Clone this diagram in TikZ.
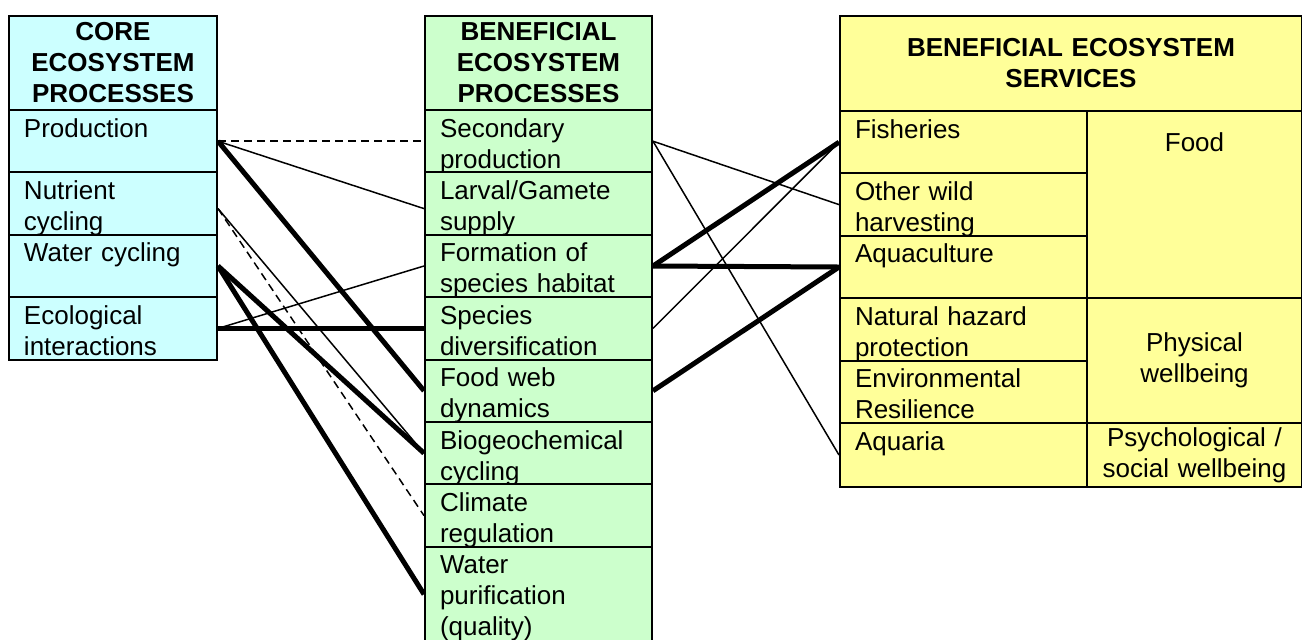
\documentclass[tikz,border=0pt]{standalone}
\usepackage{fontspec}
\setmainfont{Liberation Sans}
\definecolor{coreblue}{HTML}{CCFFFF}
\definecolor{benegreen}{HTML}{CCFFCC}
\definecolor{servyellow}{HTML}{FFFF99}
\tikzset{
  box/.style={draw, line width=1pt, anchor=north west, inner ysep=0pt},
  cell/.style={box, inner xsep=7.5pt, align=left, text height=13.5pt, text depth=17.7pt,
    font=\fontsize{13}{15.5}\selectfont},
  head/.style={box, inner xsep=0pt, align=center, minimum height=47pt,
    font=\fontsize{13}{15.5}\selectfont\bfseries},
  group/.style={box, inner xsep=0pt, align=center, text width=107.5pt,
    font=\fontsize{13}{15.5}\selectfont},
  corecell/.style={cell, fill=coreblue, text width=89pt},
  benecell/.style={cell, fill=benegreen, text width=98.5pt},
  servcell/.style={cell, fill=servyellow, text width=108.5pt},
  thinlink/.style={line width=0.75pt},
  thicklink/.style={line width=2.5pt},
  dashlink/.style={line width=0.75pt, dash pattern=on 4pt off 2.5pt}
}
\begin{document}
\begin{tikzpicture}[x=0.5pt,y=-0.5pt]
\useasboundingbox (0,0) rectangle (1302,639);
% core processes
\node (corehead) at (8,15) [head, fill=coreblue, text width=104pt] {CORE\\ECOSYSTEM\\PROCESSES};
\node (prod) at (8,109) [corecell] {Production};
\node (nutr) at (8,171.4) [corecell] {Nutrient\\cycling};
\node (watc) at (8,233.8) [corecell] {Water cycling};
\node (ecol) at (8,296.2) [corecell] {Ecological\\interactions};
% beneficial processes
\node (benehead) at (424,15) [head, fill=benegreen, text width=113.5pt] {BENEFICIAL\\ECOSYSTEM\\PROCESSES};
\node (secp) at (424,109) [benecell] {Secondary\\production};
\node (larv) at (424,171.4) [benecell] {Larval/Gamete\\supply};
\node (habi) at (424,233.8) [benecell] {Formation of\\species habitat};
\node (divr) at (424,296.2) [benecell] {Species\\diversification};
\node (fweb) at (424,358.6) [benecell] {Food web\\dynamics};
\node (bgeo) at (424,421) [benecell] {Biogeochemical\\cycling};
\node (clim) at (424,483.4) [benecell] {Climate\\regulation};
\node (purf) at (424,545.8) [benecell, text depth=34pt] {Water\\purification\\(quality)};
% services
\node (servhead) at (839,15) [head, fill=servyellow, text width=231pt, minimum height=47.5pt] {BENEFICIAL ECOSYSTEM\\SERVICES};
\node (fish) at (839,110) [servcell] {Fisheries};
\node (wild) at (839,172.4) [servcell] {Other wild\\harvesting};
\node (aqcu) at (839,234.8) [servcell] {Aquaculture};
\node (hazd) at (839,297.2) [servcell] {Natural hazard\\protection};
\node (resl) at (839,359.6) [servcell] {Environmental\\Resilience};
\node (aqra) at (839,422) [servcell, text depth=18.5pt] {Aquaria};
\node (food) at (1086,110) [group, fill=servyellow, text height=20pt, text depth=73.6pt] {Food};
\node (phys) at (1086,297.2) [group, fill=servyellow, minimum height=62.4pt] {Physical\\wellbeing};
\node (psyc) at (1086,422) [group, fill=servyellow, minimum height=32pt] {Psychological /\\social wellbeing};
% links core -> beneficial
\draw[dashlink] (prod.east) -- (secp.west);
\draw[thinlink] (prod.east) -- ([yshift=-2.5pt]larv.west);
\draw[thicklink] (prod.east) -- (fweb.west);
\draw[thinlink] ([yshift=-2.5pt]nutr.east) -- (bgeo.west);
\draw[dashlink] ([yshift=-2.5pt]nutr.east) -- (clim.west);
\draw[thicklink] (watc.east) -- (bgeo.west);
\draw[thicklink] (watc.east) -- (purf.west);
\draw[thinlink] (ecol.east) -- (habi.west);
\draw[thicklink] (ecol.east) -- (divr.west);
% links beneficial -> services
\draw[thinlink] (secp.east) -- (wild.west);
\draw[thinlink] (secp.east) -- (aqra.west);
\draw[thicklink] (habi.east) -- (fish.west);
\draw[thicklink] (habi.east) -- (aqcu.west);
\draw[thinlink] (divr.east) -- (fish.west);
\draw[thicklink] (fweb.east) -- (aqcu.west);
\end{tikzpicture}
\end{document}
